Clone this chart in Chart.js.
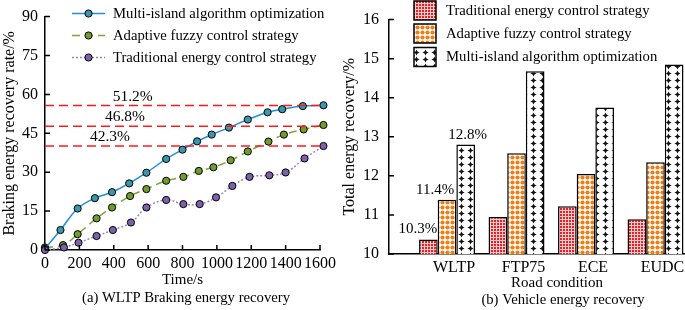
<!DOCTYPE html>
<html><head><meta charset="utf-8">
<script src="https://cdn.jsdelivr.net/npm/chart.js@4.4.0/dist/chart.umd.min.js"></script>
<style>
html,body{margin:0;padding:0;background:#fff;overflow:hidden;width:685px;height:310px;}
#wrapA{position:absolute;left:0;top:0;width:340px;height:310px;}
#wrapB{position:absolute;left:340px;top:0;width:446px;height:310px;}
canvas{display:block;}
</style></head><body>
<div id="wrapA"><canvas id="chartA" width="340" height="310"></canvas></div>
<div id="wrapB"><canvas id="chartB" width="446" height="310"></canvas></div>
<script>
// ---------- (a) WLTP braking energy recovery ----------
const seriesNames = ['Multi-island algorithm optimization', 'Adaptive fuzzy control strategy', 'Traditional energy control strategy'];
const timeMulti = [0, 90, 190, 290, 390, 490, 590, 705, 800, 885, 970, 1070, 1180, 1295, 1380, 1500, 1620];
const rateMulti = [0.5, 7.7, 16.0, 20.0, 22.3, 25.7, 29.8, 35.1, 38.7, 41.9, 44.5, 47.2, 50.3, 53.1, 54.3, 55.5, 55.8];
const timeAdaptive = [0, 105, 190, 300, 390, 495, 590, 705, 805, 895, 980, 1080, 1180, 1300, 1390, 1505, 1620];
const rateAdaptive = [1.0, 1.9, 6.1, 12.2, 16.4, 20.8, 23.5, 26.7, 28.2, 30.5, 31.9, 34.6, 38.0, 41.8, 44.5, 46.5, 48.2];
const timeTraditional = [0, 110, 195, 300, 395, 500, 590, 705, 805, 900, 995, 1090, 1190, 1305, 1400, 1510, 1620];
const rateTraditional = [0.0, 1.0, 2.8, 5.4, 7.7, 10.6, 16.4, 19.3, 17.7, 17.7, 20.3, 24.7, 28.2, 28.8, 29.9, 35.3, 40.1];
const refLevels = [55.7, 47.7, 40.1];
const refLabels = ['51.2%', '46.8%', '42.3%'];
const refLabelTimes = [510, 465, 378];
const refEndTime = 1620;

// ---------- (b) Vehicle energy recovery ----------
const roadConditions = ['WLTP', 'FTP75', 'ECE', 'EUDC'];
const barSeries = ['Traditional energy control strategy', 'Adaptive fuzzy control strategy', 'Multi-island algorithm optimization'];
const tradValues = [10.37, 10.95, 11.22, 10.89];
const adaptValues = [11.39, 12.58, 12.05, 12.35];
const multiValues = [12.80, 14.68, 13.75, 14.85];
const wltpLabels = ['10.3%', '11.4%', '12.8%'];

const SERIF = '"Liberation Serif","Times New Roman",serif';
Chart.defaults.font.family = SERIF;
Chart.defaults.color = '#000';

const pts = (ts, vs) => ts.map((t, i) => ({x: t, y: vs[i]}));

// plugins
const inwardTicks = {
  id: 'inwardTicks',
  afterDraw(chart, args, o) {
    const ctx = chart.ctx;
    ctx.save();
    ctx.strokeStyle = '#000';
    ctx.lineWidth = 1.5;
    (o.axes || []).forEach(a => {
      const s = chart.scales[a.id];
      ctx.beginPath();
      s.ticks.forEach(t => {
        const p = s.getPixelForValue(t.value);
        if (s.isHorizontal()) { ctx.moveTo(p, s.top); ctx.lineTo(p, s.top - a.len); }
        else { ctx.moveTo(s.right, p); ctx.lineTo(s.right + a.len, p); }
      });
      ctx.stroke();
    });
    ctx.restore();
  }
};

const customLegend = {
  id: 'customLegend',
  afterDraw(chart, args, o) {
    const ctx = chart.ctx;
    o.items.forEach((dsIndex, i) => {
      const ds = chart.data.datasets[dsIndex];
      const y = o.rows[i];
      ctx.save();
      if (o.kind === 'line') {
        ctx.strokeStyle = ds.borderColor; ctx.lineWidth = ds.borderWidth;
        ctx.setLineDash(ds.borderDash || []);
        ctx.beginPath(); ctx.moveTo(o.x0, y); ctx.lineTo(o.x1, y); ctx.stroke();
        ctx.setLineDash([]);
        ctx.beginPath(); ctx.arc((o.x0 + o.x1) / 2, y, ds.pointRadius, 0, Math.PI * 2);
        ctx.fillStyle = ds.pointBackgroundColor; ctx.fill();
        ctx.lineWidth = ds.pointBorderWidth; ctx.strokeStyle = ds.pointBorderColor; ctx.stroke();
      } else {
        ctx.fillStyle = ds.backgroundColor;
        ctx.fillRect(o.x0, y - o.h / 2, o.x1 - o.x0, o.h);
        ctx.lineWidth = 1.5; ctx.strokeStyle = '#000';
        ctx.strokeRect(o.x0, y - o.h / 2, o.x1 - o.x0, o.h);
      }
      ctx.fillStyle = '#000';
      ctx.font = o.fontSize + 'px ' + SERIF;
      ctx.textAlign = 'left'; ctx.textBaseline = 'middle';
      ctx.fillText(ds.label, o.textX, y + 0.5);
      ctx.restore();
    });
  }
};

const caption = {
  id: 'caption',
  afterDraw(chart, args, o) {
    const ctx = chart.ctx;
    ctx.save();
    ctx.fillStyle = '#000';
    ctx.font = o.fontSize + 'px ' + SERIF;
    ctx.textAlign = 'center'; ctx.textBaseline = 'middle';
    ctx.fillText(o.text, o.x, o.y);
    ctx.restore();
  }
};

const refText = {
  id: 'refText',
  afterDatasetsDraw(chart, args, o) {
    const ctx = chart.ctx, xs = chart.scales.x, ys = chart.scales.y;
    ctx.save();
    ctx.fillStyle = '#000';
    ctx.font = o.fontSize + 'px ' + SERIF;
    ctx.textAlign = 'center'; ctx.textBaseline = 'middle';
    o.labels.forEach((t, i) => {
      ctx.fillText(t, xs.getPixelForValue(o.times[i]), ys.getPixelForValue(o.levels[i]) - o.lift);
    });
    ctx.restore();
  }
};

const barText = {
  id: 'barText',
  afterDatasetsDraw(chart, args, o) {
    const ctx = chart.ctx;
    ctx.save();
    ctx.fillStyle = '#000';
    ctx.font = o.fontSize + 'px ' + SERIF;
    ctx.textAlign = 'center'; ctx.textBaseline = 'middle';
    o.labels.forEach((t, i) => {
      const el = chart.getDatasetMeta(i).data[o.index];
      ctx.fillText(t, el.x + o.dx[i], el.y - o.lift);
    });
    ctx.restore();
  }
};

// ---------- chart A ----------
const lineCommon = {
  borderWidth: 1.5, pointRadius: 3.6, pointHoverRadius: 3.6, pointBorderColor: '#000',
  pointBorderWidth: 1, tension: 0.4, clip: false, fill: false
};
const refSets = refLevels.map(v => ({
  label: 'ref', data: [{x: 0, y: v}, {x: refEndTime, y: v}], borderColor: '#ff1a1a',
  borderWidth: 1.5, borderDash: [9, 5], pointRadius: 0, clip: false, fill: false
}));

new Chart(document.getElementById('chartA'), {
  type: 'line',
  data: {
    datasets: [
      ...refSets,
      Object.assign({label: seriesNames[2], data: pts(timeTraditional, rateTraditional), borderColor: '#9a80d2',
        borderDash: [2, 2], pointBackgroundColor: '#7c62aa'}, lineCommon),
      Object.assign({label: seriesNames[0], data: pts(timeMulti, rateMulti), borderColor: '#1e8ede',
        pointBackgroundColor: '#3a98ac'}, lineCommon),
      Object.assign({label: seriesNames[1], data: pts(timeAdaptive, rateAdaptive), borderColor: '#7ea53c',
        borderDash: [8, 5], pointBackgroundColor: '#6f9c2c'}, lineCommon)
    ]
  },
  options: {
    responsive: false, animation: false, devicePixelRatio: 1,
    layout: {padding: {top: 16, right: 19, bottom: 0, left: 0}},
    plugins: {
      legend: {display: false}, tooltip: {enabled: false},
      inwardTicks: {axes: [{id: 'x', len: 5}, {id: 'y', len: 5}]},
      customLegend: {kind: 'line', items: [4, 5, 3], rows: [13.5, 35.5, 57.5], x0: 72, x1: 105, textX: 113, fontSize: 14.7},
      caption: {text: '(a) WLTP Braking energy recovery', x: 186, y: 298, fontSize: 14.7},
      refText: {labels: refLabels, times: refLabelTimes, levels: refLevels, lift: 9, fontSize: 15.5}
    },
    scales: {
      x: {
        type: 'linear', min: 0, max: 1600,
        ticks: {stepSize: 200, padding: 4, font: {size: 16}, maxRotation: 0, autoSkip: false, callback: v => String(v)},
        grid: {display: false, drawTicks: false}, border: {display: true, color: '#000', width: 1.5},
        title: {display: true, text: 'Time/s', font: {size: 15}, padding: {top: 0, bottom: 21}},
        afterFit: s => { s.height = 60; }
      },
      y: {
        type: 'linear', min: 0, max: 90,
        ticks: {stepSize: 15, padding: 7, font: {size: 16}},
        grid: {display: false, drawTicks: false}, border: {display: true, color: '#000', width: 1.5},
        title: {display: true, text: 'Braking energy recovery rate/%', font: {size: 16}, padding: {top: 0, bottom: 0}},
        afterFit: s => { s.width = 45; }
      }
    }
  },
  plugins: [inwardTicks, customLegend, caption, refText]
});

// ---------- chart B ----------
const ctxB = document.getElementById('chartB').getContext('2d');
function makePattern(w, h, draw) {
  const c = document.createElement('canvas'); c.width = w; c.height = h;
  const g = c.getContext('2d'); draw(g, w, h);
  return ctxB.createPattern(c, 'repeat');
}
const patTrad = makePattern(3, 3, (g) => {
  g.fillStyle = '#fbd0d0'; g.fillRect(0, 0, 3, 3);
  g.fillStyle = '#ec1e24'; g.fillRect(1, 1, 2, 2);
});
const patAdapt = makePattern(5, 5, (g) => {
  g.fillStyle = '#fff'; g.fillRect(0, 0, 5, 5);
  g.fillStyle = '#f07d14';
  g.beginPath(); g.arc(2.5, 2.5, 2.1, 0, Math.PI * 2); g.fill();
});
const patMulti = makePattern(9, 7, (g) => {
  g.fillStyle = '#fff'; g.fillRect(0, 0, 9, 7);
  g.fillStyle = '#111';
  const cx = 4.5, cy = 3.5, r = 3.1, k = 1.0;
  g.beginPath();
  g.moveTo(cx, cy - r); g.lineTo(cx + k, cy - k); g.lineTo(cx + r, cy); g.lineTo(cx + k, cy + k);
  g.lineTo(cx, cy + r); g.lineTo(cx - k, cy + k); g.lineTo(cx - r, cy); g.lineTo(cx - k, cy - k);
  g.closePath(); g.fill();
});
const barPts = vs => vs.map((v, i) => ({x: i + 1, y: v}));
const barCommon = {borderColor: '#000', borderWidth: 1.5, categoryPercentage: 0.805, barPercentage: 1.0};

new Chart(ctxB, {
  type: 'bar',
  data: {
    datasets: [
      Object.assign({label: barSeries[0], data: barPts(tradValues), backgroundColor: patTrad}, barCommon),
      Object.assign({label: barSeries[1], data: barPts(adaptValues), backgroundColor: patAdapt}, barCommon),
      Object.assign({label: barSeries[2], data: barPts(multiValues), backgroundColor: patMulti}, barCommon)
    ]
  },
  options: {
    responsive: false, animation: false, devicePixelRatio: 1,
    layout: {padding: {top: 18, right: 61, bottom: 0, left: 0}},
    plugins: {
      legend: {display: false}, tooltip: {enabled: false},
      inwardTicks: {axes: [{id: 'y', len: 5}]},
      customLegend: {kind: 'box', items: [0, 1, 2], rows: [10.5, 33.5, 57], x0: 74, x1: 96, h: 19, textX: 106, fontSize: 14.7},
      caption: {text: '(b) Vehicle energy recovery', x: 223, y: 300, fontSize: 14.7},
      barText: {labels: wltpLabels, index: 0, dx: [-10.5, -12, 2], lift: 10, fontSize: 15}
    },
    scales: {
      x: {
        type: 'linear', min: 0.165, max: 5, offset: false,
        afterBuildTicks: s => { s.ticks = roadConditions.map((_, i) => ({value: i + 1})); },
        ticks: {callback: v => roadConditions[v - 1] || '', labelOffset: 7, padding: 4, font: {size: 16}, autoSkip: false, maxRotation: 0},
        grid: {display: false, offset: false, drawTicks: false}, border: {display: true, color: '#000', width: 1.5},
        title: {display: true, text: 'Road condition', font: {size: 15}, padding: {top: 0, bottom: 18}},
        afterFit: s => { s.height = 56; }
      },
      y: {
        type: 'linear', min: 10, max: 16, beginAtZero: false,
        ticks: {stepSize: 1, padding: 10, font: {size: 16}},
        grid: {display: false, drawTicks: false}, border: {display: true, color: '#000', width: 1.5},
        title: {display: true, text: 'Total energy recovery/%', font: {size: 16}, padding: {top: 0, bottom: 0}},
        afterFit: s => { s.width = 49; }
      }
    }
  },
  plugins: [inwardTicks, customLegend, caption, barText]
});
</script>
</body></html>
